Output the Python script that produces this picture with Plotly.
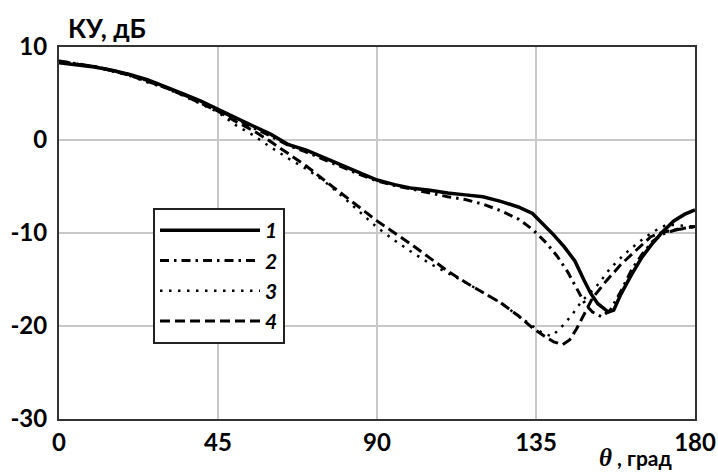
import plotly.graph_objects as go

# Gain pattern КУ(θ), dB, for four configurations
theta_1 = [0, 5, 10, 15, 20, 25, 30, 35, 40, 45, 50, 55, 60, 65, 70, 75, 80, 85, 90,
           95, 100, 105, 110, 115, 120, 125, 130, 134, 137, 140, 143, 146, 148.5, 150.5,
           152.5, 155.5, 157, 159, 162, 165, 168, 171, 174, 177, 180]
gain_1 = [8.3, 8.1, 7.85, 7.5, 7.05, 6.5, 5.8, 5.0, 4.2, 3.3, 2.4, 1.4, 0.6, -0.5, -1.1,
          -1.9, -2.7, -3.5, -4.3, -4.8, -5.2, -5.4, -5.7, -5.9, -6.1, -6.6, -7.2, -7.9,
          -9.0, -10.2, -11.5, -13.0, -15.0, -16.5, -17.6, -18.5, -18.3, -16.6, -14.5,
          -12.6, -11.1, -9.8, -8.7, -8.0, -7.5]

theta_2 = [0, 5, 10, 15, 20, 25, 30, 35, 40, 45, 50, 55, 60, 65, 70, 75, 80, 85, 90,
           95, 100, 105, 110, 115, 120, 125, 130, 134, 138, 141, 144, 146, 149, 151,
           153.5, 156, 159, 162, 165, 168, 171, 175, 178, 180]
gain_2 = [8.5, 8.2, 7.9, 7.5, 7.0, 6.4, 5.7, 4.9, 4.1, 3.2, 2.3, 1.3, 0.4, -0.6, -1.3,
          -2.1, -2.9, -3.7, -4.4, -4.9, -5.3, -5.7, -6.1, -6.4, -6.9, -7.6, -8.5, -9.6,
          -11.1, -12.5, -14.2, -15.6, -17.7, -18.5, -19.0, -18.3, -16.3, -14.0, -12.3,
          -10.9, -10.1, -9.6, -9.4, -9.3]

theta_3 = [0, 5, 10, 15, 20, 25, 30, 35, 40, 45, 50, 55, 60, 65, 70, 75, 80, 85, 90,
           95, 100, 105, 110, 115, 120, 125, 130, 134, 137, 139.5, 142, 145, 148, 152,
           156, 160, 164, 168, 172, 176, 180]
gain_3 = [8.5, 8.2, 7.9, 7.4, 6.9, 6.2, 5.6, 4.8, 3.9, 3.0, 1.6, 0.5, -0.8, -2.0, -3.1,
          -4.4, -6.0, -7.7, -9.4, -10.8, -12.1, -13.3, -14.3, -15.3, -16.4, -17.5,
          -18.9, -20.0, -20.8, -21.1, -20.2, -18.9, -17.3, -15.8, -13.8, -12.3, -11.0,
          -9.9, -9.1, -9.2, -9.3]

theta_4 = [0, 5, 10, 15, 20, 25, 30, 35, 40, 45, 50, 55, 60, 65, 70, 75, 80, 85, 90,
           95, 100, 105, 110, 115, 120, 125, 130, 134, 137, 140, 142.5, 144.5, 146.5,
           148.5, 151, 155, 159, 163.5, 167.5, 171, 175, 180]
gain_4 = [8.4, 8.15, 7.9, 7.45, 6.95, 6.3, 5.65, 4.85, 4.0, 3.1, 2.0, 1.0, -0.2, -1.5,
          -2.8, -4.3, -5.8, -7.3, -8.7, -10.0, -11.3, -12.7, -14.1, -15.3, -16.4,
          -17.5, -18.9, -20.2, -21.0, -21.7, -22.0, -21.5, -20.3, -18.8, -17.0, -15.1,
          -13.4, -11.8, -10.4, -9.9, -9.6, -9.3]

names = ["1", "2", "3", "4"]
x_ticks = [0, 45, 90, 135, 180]
y_ticks = [10, 0, -10, -20, -30]

styles = [
    dict(dash="solid", width=3.5),
    dict(dash="9px,5px,2.5px,5px", width=3),
    dict(dash="2.5px,6.5px", width=2.5),
    dict(dash="10px,5px", width=3),
]

fig = go.Figure()
for th, g, nm, st in zip([theta_1, theta_2, theta_3, theta_4],
                         [gain_1, gain_2, gain_3, gain_4], names, styles):
    fig.add_trace(go.Scatter(
        x=th, y=g, name=nm, mode="lines",
        line=dict(color="black", width=st["width"], dash=st["dash"]),
    ))

tick_font = dict(family="Lato", size=24, color="black", weight="bold")
W, H = 718, 473
ml, mr, mt, mb = 59, 23, 47, 54
pw, ph = W - ml - mr, H - mt - mb

fig.update_layout(
    width=W, height=H,
    margin=dict(l=ml, r=mr, t=mt, b=mb, pad=0, autoexpand=False),
    paper_bgcolor="white", plot_bgcolor="white",
    showlegend=True,
    legend=dict(
        x=(153 - ml) / pw, y=(H - mb - 208) / ph,
        xanchor="left", yanchor="top",
        bgcolor="white", bordercolor="#222", borderwidth=2,
        font=dict(family="Lato", size=21, color="black", weight="bold", style="italic"),
        itemwidth=100, tracegroupgap=0,
    ),
    xaxis=dict(
        range=[0, 180], tickvals=x_ticks, ticktext=[str(v) for v in x_ticks],
        showgrid=True, gridcolor="#c8c8c8", gridwidth=1.5,
        showline=True, linecolor="#333", linewidth=2, mirror=True,
        ticks="", tickfont=tick_font, zeroline=False, ticklabelstandoff=1,
        automargin=False,
    ),
    yaxis=dict(
        range=[-30, 10], tickvals=y_ticks, ticktext=[str(v) for v in y_ticks],
        showgrid=True, gridcolor="#c8c8c8", gridwidth=1.5,
        showline=True, linecolor="#333", linewidth=2, mirror=True,
        ticks="", tickfont=tick_font, zeroline=False, ticklabelstandoff=5,
        automargin=False,
    ),
    annotations=[
        dict(text="КУ, дБ", xref="paper", yref="paper",
             x=(66 - ml) / pw, y=(H - mb - 28) / ph, xanchor="left", yanchor="middle",
             showarrow=False, font=dict(family="Lato", size=26, color="black", weight="bold")),
        dict(text='<span style="font-family:Liberation Serif;font-style:italic;font-size:25px">θ</span> , град',
             xref="paper", yref="paper", borderpad=0,
             x=(673 - ml) / pw, y=(H - mb - 472) / ph, xanchor="right", yanchor="bottom",
             showarrow=False, font=dict(family="Lato", size=21, color="black", weight="bold")),
    ],
)

fig.write_html("out.html")
